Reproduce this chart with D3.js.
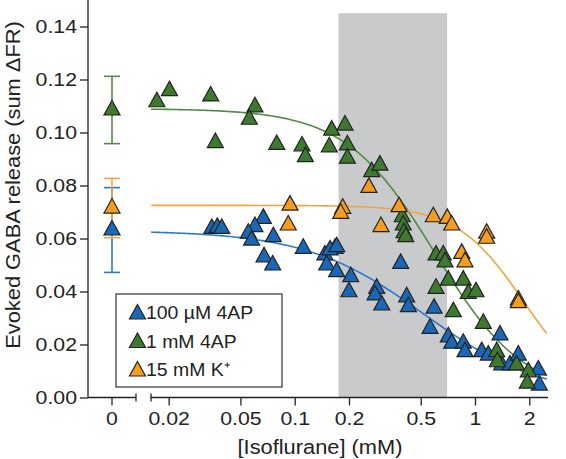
<!DOCTYPE html>
<html><head><meta charset="utf-8">
<script src="https://cdn.jsdelivr.net/npm/d3@7"></script>
<style>
html,body{margin:0;padding:0;background:#fff;}
svg text{font-family:"Liberation Sans",Arial,sans-serif;fill:#222;}
</style></head>
<body><svg id="c" width="566" height="459"></svg>
<script>
// ---------- data ----------
const seriesNames = ["100 µM 4AP", "1 mM 4AP", "15 mM K⁺"];
const seriesColors = ["#1a67b5", "#3d7a30", "#f49d1f"];
const lineColors = ["#2a7cc6", "#508b45", "#f5a440"];

const blueConc = [0.0347,0.0372,0.0394,0.0670,0.0602,0.0553,0.0577,0.0761,0.0676,0.0755,0.1116,0.147,0.1505,0.1674,0.157,0.171,0.1708,0.2045,0.200,0.285,0.279,0.304,0.387,0.418,0.427,0.593,0.563,0.711,0.743,0.861,0.880,1.089,1.185,1.376,1.406,1.563,1.739,2.244,2.274];
const blueVal  = [0.0638,0.0642,0.0638,0.0676,0.0645,0.0620,0.0594,0.0607,0.0531,0.0500,0.0563,0.0538,0.0500,0.0563,0.0557,0.0569,0.0475,0.0456,0.0399,0.0412,0.0387,0.0349,0.0506,0.0380,0.0343,0.0337,0.0261,0.0229,0.0205,0.0205,0.0173,0.0173,0.0160,0.0236,0.0123,0.0123,0.0160,0.0104,0.0047];

const greenConc = [0.0172,0.0202,0.0342,0.0602,0.0560,0.0363,0.0795,0.1098,0.1146,0.1556,0.1604,0.190,0.196,0.196,0.2673,0.297,0.395,0.400,0.404,0.413,0.608,0.667,0.682,0.608,0.711,0.861,0.918,1.013,0.758,1.112,1.319,1.33,1.70,1.976,1.95];
const greenVal  = [0.1116,0.1158,0.1138,0.1097,0.1050,0.0962,0.0955,0.0949,0.0909,0.0946,0.1009,0.1028,0.0953,0.0903,0.0852,0.0877,0.0682,0.0651,0.0622,0.0607,0.0538,0.0538,0.0512,0.0412,0.0443,0.0443,0.0393,0.0399,0.0324,0.0280,0.0173,0.0135,0.0123,0.0097,0.0054];

const orangeConc = [0.0942,0.0921,0.1847,0.180,0.258,0.301,0.379,0.587,0.702,0.743,0.844,0.880,1.161,1.161,1.739,1.739];
const orangeVal  = [0.0726,0.0651,0.0714,0.0695,0.0793,0.0645,0.0720,0.0682,0.0676,0.0651,0.0544,0.0512,0.0620,0.0601,0.0368,0.0358];

// zero-isoflurane control: mean and error
const zeroMean = [0.0632, 0.1085, 0.0715];
const zeroErr  = [0.0160, 0.0127, 0.0112];

// Hill fit parameters (top, IC50 mM, Hill coefficient)
const fitTop  = [0.063, 0.109, 0.0725];
const fitIC50 = [0.52, 0.60, 1.86];
const fitHill = [1.33, 1.75, 2.35];
const fitRange = [0.016, 2.5];

// anesthetic clinical range band (mM)
const bandRange = [0.175, 0.7];
const bandTop = 0.145;

const xTicks = [0.02, 0.05, 0.1, 0.2, 0.5, 1, 2];
const yTicks = [0, 0.02, 0.04, 0.06, 0.08, 0.10, 0.12, 0.14];
const zeroLabel = ["0"];

// ---------- layout ----------
const svg = d3.select("#c");
const X0 = 88, Y0 = 397.5;
const y = d3.scaleLinear().domain([0, 0.15]).range([Y0, 0]);
const x = d3.scaleLog().domain([0.1, 1]).range([294.7, 475]);
const xz = d3.scaleBand().domain(zeroLabel).range([X0, 136]).padding(0);
const xEnd = 548, seg2 = 151;
const SX = 1.15;

function stretch(sel, origin, k) {
  sel.style("transform-box", "fill-box").style("transform-origin", origin)
     .style("transform", `scaleX(${k || SX})`);
}

// grey band
svg.append("rect")
  .attr("x", x(bandRange[0])).attr("y", y(bandTop))
  .attr("width", x(bandRange[1]) - x(bandRange[0]))
  .attr("height", Y0 - y(bandTop))
  .attr("fill", "#c9cacc");

// y axis
const gy = svg.append("g").attr("transform", `translate(${X0},0)`)
  .call(d3.axisLeft(y).tickValues(yTicks).tickFormat(d3.format(".2f")).tickSize(8).tickSizeOuter(0).tickPadding(3));
gy.select(".domain").remove();
gy.selectAll("line").attr("stroke", "#222").attr("stroke-width", 1.3);
gy.selectAll("text").style("font-size", "18.5px").attr("fill", "#222");
stretch(gy.selectAll("text"), "right center");
svg.append("line").attr("x1", X0).attr("x2", X0).attr("y1", 0).attr("y2", Y0)
  .attr("stroke", "#222").attr("stroke-width", 1.3);

// x axis (log part)
const gx = svg.append("g").attr("transform", `translate(0,${Y0})`)
  .call(d3.axisBottom(x).tickValues(xTicks).tickFormat(d => String(d)).tickSize(8).tickPadding(6.5));
gx.select(".domain").remove();
// x axis (zero part)
const gz = svg.append("g").attr("transform", `translate(0,${Y0})`)
  .call(d3.axisBottom(xz).tickSize(8).tickPadding(6.5));
gz.select(".domain").remove();
[gx, gz].forEach(g => {
  g.selectAll("line").attr("stroke", "#222").attr("stroke-width", 1.3);
  g.selectAll("text").style("font-size", "18.5px").attr("fill", "#222");
  stretch(g.selectAll("text"), "center");
});
const axl = svg.append("g").attr("stroke", "#222").attr("stroke-width", 1.3);
axl.append("line").attr("x1", X0).attr("x2", 136).attr("y1", Y0).attr("y2", Y0);
axl.append("line").attr("x1", 136).attr("x2", 136).attr("y1", Y0 - 4).attr("y2", Y0 + 4);
axl.append("line").attr("x1", seg2).attr("x2", xEnd).attr("y1", Y0).attr("y2", Y0);
axl.append("line").attr("x1", seg2).attr("x2", seg2).attr("y1", Y0 - 4).attr("y2", Y0 + 4);

// axis titles
svg.append("text").attr("transform", `translate(20,185) rotate(-90) scale(1.12,1)`)
  .attr("text-anchor", "middle").style("font-size", "19.5px")
  .text("Evoked GABA release (sum ΔFR)");
svg.append("text").attr("x", 320).attr("y", 454).attr("text-anchor", "middle")
  .style("font-size", "19.5px").text("[Isoflurane] (mM)")
  .call(s => stretch(s, "center", 1.12));

// fit curves
const concGrid = d3.range(0, 201).map(i => fitRange[0] * Math.pow(fitRange[1] / fitRange[0], i / 200));
const line = d3.line().x(d => x(d[0])).y(d => y(d[1]));
[0, 1, 2].forEach(i => {
  const pts = concGrid.map(c => [c, fitTop[i] / (1 + Math.pow(c / fitIC50[i], fitHill[i]))]);
  svg.append("path").datum(pts).attr("d", line).attr("fill", "none")
    .attr("stroke", lineColors[i]).attr("stroke-width", 1.6);
});

// triangle marker
const tri = "M0,-9.5L8,5L-8,5Z";
function marker(g, cx, cy, color) {
  g.append("path").attr("d", tri).attr("transform", `translate(${cx},${cy})`)
    .attr("fill", color).attr("stroke", "#222").attr("stroke-width", 1.2)
    .attr("stroke-linejoin", "miter");
}

// zero control error bars
const cz = xz("0") + xz.bandwidth() / 2;
[0, 1, 2].forEach(i => {
  const g = svg.append("g").attr("stroke", lineColors[i]).attr("stroke-width", 1.6);
  const lo = zeroMean[i] - zeroErr[i], hi = zeroMean[i] + zeroErr[i];
  g.append("line").attr("x1", cz).attr("x2", cz).attr("y1", y(lo)).attr("y2", y(hi));
  g.append("line").attr("x1", cz - 8).attr("x2", cz + 8).attr("y1", y(lo)).attr("y2", y(lo));
  g.append("line").attr("x1", cz - 8).attr("x2", cz + 8).attr("y1", y(hi)).attr("y2", y(hi));
});

// points
const concs = [blueConc, greenConc, orangeConc];
const vals = [blueVal, greenVal, orangeVal];
const pg = svg.append("g");
[0, 1, 2].forEach(i => {
  concs[i].forEach((c, k) => marker(pg, x(c), y(vals[i][k]), seriesColors[i]));
  marker(pg, cz, y(zeroMean[i]), seriesColors[i]);
});

// legend
const lg = svg.append("g");
lg.append("rect").attr("x", 116).attr("y", 294).attr("width", 166).attr("height", 93)
  .attr("fill", "#fff").attr("stroke", "#333").attr("stroke-width", 1.2);
seriesNames.forEach((n, i) => {
  const cy = 313 + i * 28.5;
  marker(lg, 137.5, cy + 1, seriesColors[i]);
  lg.append("text").attr("x", 146).attr("y", cy + 6.5).style("font-size", "18.5px").text(n)
    .call(s => stretch(s, "left center", 1.05));
});
</script></body></html>
